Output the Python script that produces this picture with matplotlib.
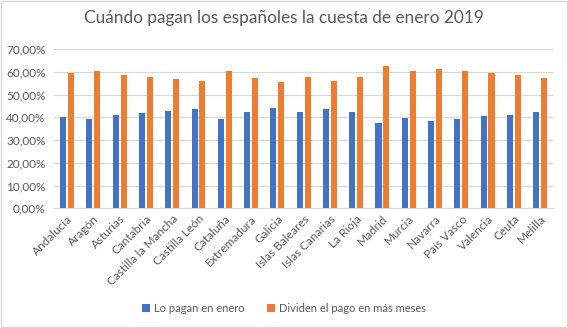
import numpy as np
import matplotlib.pyplot as plt
from matplotlib.patches import Rectangle

regiones = ['Andalucía', 'Aragón', 'Asturias', 'Cantabria', 'Castilla la Mancha',
            'Castilla León', 'Cataluña', 'Extremadura', 'Galicia', 'Islas Baleares',
            'Islas Canarias', 'La Rioja', 'Madrid', 'Murcia', 'Navarra', 'País Vasco',
            'Valencia', 'Ceuta', 'Melilla']
en_enero = [40.2, 39.3, 41.2, 42.1, 43.0, 43.9, 39.3, 42.5, 44.3, 42.5,
            43.9, 42.5, 37.7, 39.9, 38.6, 39.3, 40.8, 41.2, 42.5]
mas_meses = [59.7, 60.6, 58.8, 57.9, 57.1, 56.2, 60.6, 57.5, 55.7, 57.9,
             56.2, 57.9, 62.8, 60.2, 61.4, 60.6, 59.7, 58.8, 57.5]
yticks = [0, 10, 20, 30, 40, 50, 60, 70]

plt.rcParams['font.family'] = ['Lato', 'DejaVu Sans']

fig = plt.figure(figsize=(5.68, 3.28), dpi=100)
ax = fig.add_axes([0.095, 0.365, 0.879, 0.485])

x = np.arange(len(regiones))
w = 0.23
ax.bar(x - 0.15, en_enero, w, color='#4472c4', label='Lo pagan en enero', zorder=3)
ax.bar(x + 0.15, mas_meses, w, color='#ed7d31', label='Dividen el pago en más meses', zorder=3)

ax.set_xlim(-0.5, len(regiones) - 0.5)
ax.set_ylim(0, 70)
ax.set_yticks(yticks)
ax.set_yticklabels([f'{v},00%' for v in yticks])
ax.yaxis.grid(True, color='#d9d9d9', linewidth=0.8, zorder=0)
ax.set_xticks(x)
ax.set_xticklabels(regiones, rotation=45, ha='right', rotation_mode='anchor')
ax.tick_params(axis='both', length=0, labelsize=8.5, colors='#595959')
ax.tick_params(axis='y', pad=6)
for s in ['top', 'right', 'left']:
    ax.spines[s].set_visible(False)
ax.spines['bottom'].set_color('#d9d9d9')

fig.text(0.5, 0.945, 'Cuándo pagan los españoles la cuesta de enero 2019',
         ha='center', va='center', fontsize=12.4, color='#595959')

fig.legend(loc='center', bbox_to_anchor=(0.5, 0.06), ncol=2, frameon=False,
           fontsize=8, labelcolor='#595959', handlelength=0.7, handleheight=0.7,
           columnspacing=2, handletextpad=0.4)

fig.patches.append(Rectangle((0.001, 0.002), 0.997, 0.995, transform=fig.transFigure,
                             fill=False, edgecolor='#d9d9d9', linewidth=1))

fig.savefig('out.png', dpi=100)
